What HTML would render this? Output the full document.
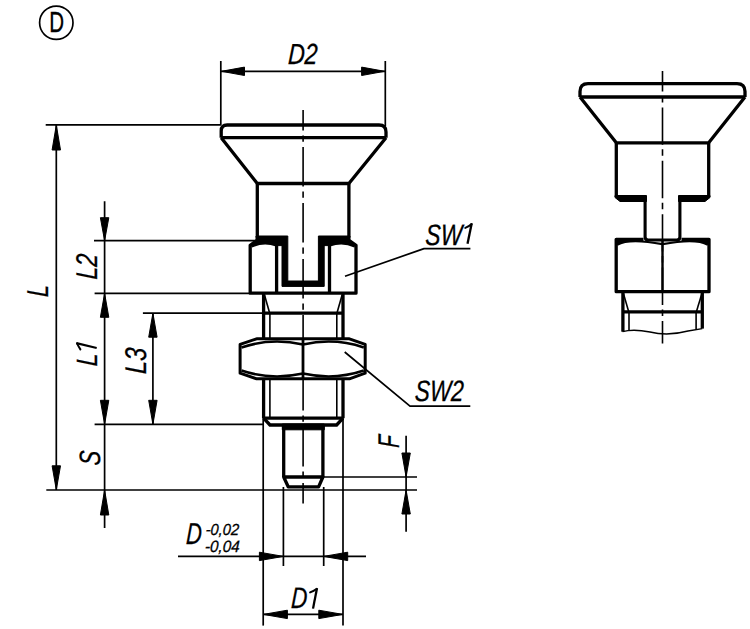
<!DOCTYPE html>
<html><head><meta charset="utf-8"><style>
html,body{margin:0;padding:0;background:#fff;}
svg{display:block;}
text{font-family:"Liberation Sans",sans-serif;font-style:italic;fill:#000;}
</style></head><body>
<svg width="750" height="629" viewBox="0 0 750 629">
<rect width="750" height="629" fill="#fff"/>
<g fill="none" stroke="#000" stroke-linejoin="round" stroke-linecap="butt">
<path d="M221.2,137.7 L221.2,131 Q221.2,125 227.2,125 L379,125 Q386,125 386,132 L386,137.7" stroke-width="3.3" />
<path d="M221.2,137.7 L386,137.7" stroke-width="3.3" />
<path d="M221.2,137.7 L257.3,183.5 L348.9,183.5 L386,137.7" stroke-width="3.3" />
<path d="M257.3,183.5 L257.3,237.5" stroke-width="3.3" />
<path d="M348.9,183.5 L348.9,237.5" stroke-width="3.3" />
<path d="M263.6,293.2 L263.6,418.2" stroke-width="3.3" />
<path d="M343,293.2 L343,418.2" stroke-width="3.3" />
<path d="M264.5,295 L269.7,313.2" stroke-width="1.6" />
<path d="M342.1,295 L336.9,313.2" stroke-width="1.6" />
<path d="M263.6,313.2 L343,313.2" stroke-width="3.3" />
<path d="M269.9,313.2 L269.9,418.2" stroke-width="1.6" />
<path d="M336.8,313.2 L336.8,418.2" stroke-width="1.6" />
<path d="M263.6,418.2 L343,418.2" stroke-width="3.3" />
<path d="M263.6,418.2 L270,425 L336.6,425 L343,418.2" stroke-width="3.3" />
<rect x="282.3" y="424" width="42" height="5.8" fill="#000"/>
<path d="M283.7,425 L283.7,477" stroke-width="3.3" />
<path d="M322.9,425 L322.9,477" stroke-width="3.3" />
<path d="M283.7,477 L322.9,477 L318.6,486.8 L288.2,486.8 Z" stroke-width="3.3" />
<path d="M250.2,293.2 L250.2,245.3 L256,241 L350,241 L356,245.3 L356,293.2 Z" fill="#fff" stroke="none"/>
<path d="M282,241 L256,241 L250.2,245.3 L250.2,293.2 L356,293.2 L356,245.3 L350,241 L324,241" stroke-width="3.3" />
<path d="M276.6,243 L276.6,293.2" stroke-width="3.3" />
<path d="M329.5,243 L329.5,293.2" stroke-width="3.3" />
<path d="M251.5,246 Q264,240 276.6,245" stroke-width="3.3" />
<path d="M329.5,245 Q342.5,240 355,246" stroke-width="3.3" />
<path d="M256,236 L287.8,236 L287.8,281 L318.4,281 L318.4,236 L350,236 L350,242.5 L324.2,242.5 L324.2,286.4 L282,286.4 L282,242.5 L256,242.5 Z" fill="#000"/>
<path d="M276.5,240 L282.5,240 L282.5,245.6 L276.5,245.6 Z M323.7,240 L329.7,240 L329.7,245.6 L323.7,245.6 Z" fill="#000"/>
<path d="M256.6,338.8 L349.4,338.8 L365.2,344.4 L365.2,373.2 L349.4,378.8 L256.6,378.8 L240.1,373.2 L240.1,344.4 Z" stroke-width="3.0" fill="#fff"/>
<path d="M303,338.5 L303,379" stroke-width="2.8" />
<path d="M241.5,347.5 Q271,337.5 303,344.5" stroke-width="2.5" />
<path d="M303,344.5 Q334.5,337.5 363.8,347.5" stroke-width="2.5" />
<path d="M241.5,370.5 Q271,380.5 303,373.5" stroke-width="2.5" />
<path d="M303,373.5 Q334.5,380.5 363.8,370.5" stroke-width="2.5" />
<path d="M220.8,61 L220.8,125" stroke-width="1.7" />
<path d="M385.3,61 L385.3,126" stroke-width="1.7" />
<path d="M221,71.3 L385,71.3" stroke-width="1.7" />
<polygon points="221.5,71.3 244.5,67.1 244.5,75.5" fill="#000" stroke="#000" stroke-width="1" stroke-linejoin="round"/>
<polygon points="384.6,71.3 361.6,67.1 361.6,75.5" fill="#000" stroke="#000" stroke-width="1" stroke-linejoin="round"/>
<path d="M45.7,124.9 L221,124.9" stroke-width="1.7" />
<path d="M56.3,124.9 L56.3,490" stroke-width="1.7" />
<polygon points="56.3,125.0 52.1,150.0 60.5,150.0" fill="#000" stroke="#000" stroke-width="1" stroke-linejoin="round"/>
<polygon points="56.3,489.8 52.1,465.8 60.5,465.8" fill="#000" stroke="#000" stroke-width="1" stroke-linejoin="round"/>
<path d="M46.3,490 L417,490" stroke-width="1.7" />
<path d="M104.6,201.3 L104.6,528" stroke-width="1.7" />
<path d="M94,240.7 L256,240.7" stroke-width="1.7" />
<path d="M94.6,293.3 L250,293.3" stroke-width="1.7" />
<path d="M94.6,424.3 L263.6,424.3" stroke-width="1.7" />
<polygon points="104.6,240.7 100.4,217.7 108.8,217.7" fill="#000" stroke="#000" stroke-width="1" stroke-linejoin="round"/>
<polygon points="104.6,293.3 100.4,317.3 108.8,317.3" fill="#000" stroke="#000" stroke-width="1" stroke-linejoin="round"/>
<polygon points="104.6,424.3 100.4,400.3 108.8,400.3" fill="#000" stroke="#000" stroke-width="1" stroke-linejoin="round"/>
<polygon points="104.6,490.0 100.4,515.0 108.8,515.0" fill="#000" stroke="#000" stroke-width="1" stroke-linejoin="round"/>
<path d="M152.9,313.2 L152.9,424.3" stroke-width="1.7" />
<path d="M142.9,313.2 L263.6,313.2" stroke-width="1.7" />
<polygon points="152.9,313.2 148.7,337.2 157.1,337.2" fill="#000" stroke="#000" stroke-width="1" stroke-linejoin="round"/>
<polygon points="152.9,424.3 148.7,400.3 157.1,400.3" fill="#000" stroke="#000" stroke-width="1" stroke-linejoin="round"/>
<path d="M406.1,435.7 L406.1,531.8" stroke-width="1.7" />
<path d="M323,477 L417,477" stroke-width="1.7" />
<polygon points="406.1,477.0 401.9,453.0 410.3,453.0" fill="#000" stroke="#000" stroke-width="1" stroke-linejoin="round"/>
<polygon points="406.1,490.0 401.9,514.0 410.3,514.0" fill="#000" stroke="#000" stroke-width="1" stroke-linejoin="round"/>
<path d="M178,556.4 L366,556.4" stroke-width="1.7" />
<path d="M283.4,487 L283.4,566" stroke-width="1.7" />
<path d="M323.7,487 L323.7,566" stroke-width="1.7" />
<polygon points="283.4,556.4 259.4,552.2 259.4,560.6" fill="#000" stroke="#000" stroke-width="1" stroke-linejoin="round"/>
<polygon points="323.7,556.4 347.7,552.2 347.7,560.6" fill="#000" stroke="#000" stroke-width="1" stroke-linejoin="round"/>
<path d="M263.2,418 L263.2,625.6" stroke-width="1.7" />
<path d="M343,418 L343,625.6" stroke-width="1.7" />
<path d="M263.2,614.4 L343,614.4" stroke-width="1.7" />
<polygon points="263.4,614.4 287.4,610.2 287.4,618.6" fill="#000" stroke="#000" stroke-width="1" stroke-linejoin="round"/>
<polygon points="342.8,614.4 318.8,610.2 318.8,618.6" fill="#000" stroke="#000" stroke-width="1" stroke-linejoin="round"/>
<path d="M345,276.3 L424,248.6 L470.4,248.6" stroke-width="1.7" />
<path d="M344.7,352 L410,406.2 L470.3,406.2" stroke-width="1.7" />
<path d="M580,97 L580,91.6 Q580,83.6 588,83.6 L737,83.6 Q745,83.6 745,91.6 L745,97" stroke-width="3.3" />
<path d="M580,97 L745,97" stroke-width="3.3" />
<path d="M580,97 L616.3,142.8 L708.7,142.8 L745,97" stroke-width="3.3" />
<path d="M616.3,142.8 L616.3,197" stroke-width="3.3" />
<path d="M708.7,142.8 L708.7,197" stroke-width="3.3" />
<path d="M615,195.5 L646.5,195.5 L646.5,201.5 L620,201.5 L615,197.5 Z" fill="#000"/>
<path d="M710,195.5 L678.5,195.5 L678.5,201.5 L705,201.5 L710,197.5 Z" fill="#000"/>
<path d="M645.1,196 L645.1,237 Q645.1,240 648.1,240 L676.9,240 Q679.9,240 679.9,237 L679.9,196" stroke-width="3.1" />
<path d="M616.2,238 L643,238 L643,241.5 L630,241.3 L622,242.6 L617.2,244.7 Z M709,238 L682,238 L682,241.5 L695,241.3 L703,242.6 L707.8,244.7 Z" fill="#000" stroke="none"/>
<path d="M643.5,239.3 L616.2,239.3 L616.2,291.7 L709,291.7 L709,239.3 L681.5,239.3" stroke-width="3.3" />
<path d="M662.5,240 L662.5,291.7" stroke-width="2.4" />
<path d="M617.2,244.7 C625,240.5 640,240 662.5,244.2" stroke-width="2.2" />
<path d="M707.8,244.7 C700,240.5 685,240 662.5,244.2" stroke-width="2.2" />
<path d="M622.9,291.7 L622.9,331.7" stroke-width="3.3" />
<path d="M702.3,291.7 L702.3,328.6" stroke-width="3.3" />
<path d="M623.4,293.5 L628.8,311.9" stroke-width="1.6" />
<path d="M702,293.3 L696.3,311.9" stroke-width="1.6" />
<path d="M622.9,311.9 L702.3,311.9" stroke-width="3.3" />
<path d="M629,311.9 L629,331" stroke-width="1.6" />
<path d="M696.1,311.9 L696.1,329" stroke-width="1.6" />
<path d="M622.5,331.7 C630,329.5 640,330 650,332 C660,334.5 675,334.5 688,331 L702.3,328.6" stroke-width="1.4" fill="none"/>
<path d="M303.1,110 L303.1,503.6" stroke-width="1.6" stroke-dasharray="39.5 5 6.3 5.2" stroke-dashoffset="19"/>
<path d="M662.5,70.9 L662.5,343.5" stroke-width="1.6" stroke-dasharray="37.4 4.5 6.5 5" stroke-dashoffset="16.9"/>
<circle cx="56.3" cy="22.75" r="16.7" fill="none" stroke="#000" stroke-width="1.7"/>
</g>
<g>
<text transform="translate(287.64,63.98) skewX(-2.7) scale(0.7970,1)" font-size="29.04" stroke="#000" stroke-width="0.3">D2</text>
<text transform="translate(425.12,244.55) skewX(-2.7) scale(0.7724,1)" font-size="29.49" stroke="#000" stroke-width="0.3">SW</text>
<text transform="translate(414.54,400.73) skewX(-2.7) scale(0.7633,1)" font-size="29.49" stroke="#000" stroke-width="0.3">SW2</text>
<text transform="translate(290.79,608.00) skewX(-2.7) scale(0.7567,1)" font-size="29.63" stroke="#000" stroke-width="0.3">D</text>
<text transform="translate(185.82,544.26) skewX(-2.7) scale(0.7230,1)" font-size="30.04" stroke="#000" stroke-width="0.3">D</text>
<text transform="translate(205.41,534.86) skewX(-2.7) scale(0.9148,1)" font-size="16.08" stroke="#000" stroke-width="0.3">-0,02</text>
<text transform="translate(204.78,552.43) skewX(-2.7) scale(0.9323,1)" font-size="16.40" stroke="#000" stroke-width="0.3">-0,04</text>
<text transform="translate(47.61,297.15) rotate(-90) skewX(-2.7) scale(0.7259,1)" font-size="30.12" stroke="#000" stroke-width="0.3">L</text>
<text transform="translate(96.62,279.66) rotate(-90) skewX(-2.7) scale(0.7696,1)" font-size="29.88" stroke="#000" stroke-width="0.3">L2</text>
<text transform="translate(96.57,366.60) rotate(-90) skewX(-2.7) scale(0.7907,1)" font-size="29.30" stroke="#000" stroke-width="0.3">L</text>
<text transform="translate(146.29,374.28) rotate(-90) skewX(-2.7) scale(0.7918,1)" font-size="29.88" stroke="#000" stroke-width="0.3">L3</text>
<text transform="translate(99.88,465.63) rotate(-90) skewX(-2.7) scale(0.7488,1)" font-size="29.39" stroke="#000" stroke-width="0.3">S</text>
<text transform="translate(399.15,447.92) rotate(-90) skewX(-2.7) scale(0.6813,1)" font-size="29.88" stroke="#000" stroke-width="0.3">F</text>
<text transform="translate(49.37,31.96) scale(0.6935,1)" font-size="29.57" style="font-style:normal" stroke="#000" stroke-width="0.35">D</text>
<path d="M467.5,243.8 L471.7,223.5" fill="none" stroke="#000" stroke-width="2.3"/>
<path d="M471.6,224 Q468.8,226.6 465.3,227.9" fill="none" stroke="#000" stroke-width="2.0" stroke-linecap="round"/>
<path d="M313,608.6 L317,588.3" fill="none" stroke="#000" stroke-width="2.3"/>
<path d="M316.8,588.8 Q313.5,591 310.1,592.4" fill="none" stroke="#000" stroke-width="2.0" stroke-linecap="round"/>
<path d="M76.4,343.2 L96.7,348" fill="none" stroke="#000" stroke-width="2.3"/>
<path d="M77,343.4 Q78.5,346.5 80.4,349.4" fill="none" stroke="#000" stroke-width="2.0" stroke-linecap="round"/>
</g>
</svg>
</body></html>
